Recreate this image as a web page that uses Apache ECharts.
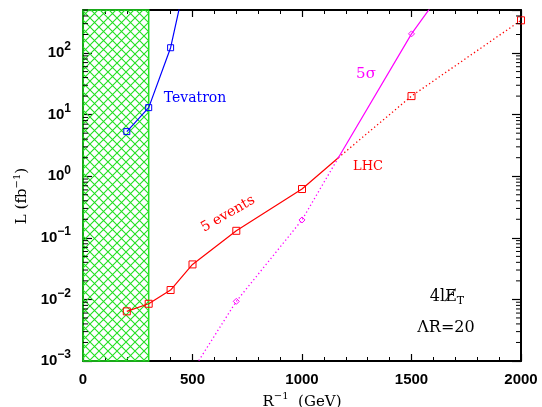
<!DOCTYPE html>
<html><head><meta charset="utf-8">
<script src="https://cdn.jsdelivr.net/npm/echarts@6/dist/echarts.min.js"></script>
<style>html,body{margin:0;padding:0;background:#fff}#c{width:542px;height:407px}</style>
</head><body><div id="c"></div>
<script>
// ---- data ----
const tevX = [200, 300, 400, 500];
const tevY = [5.3, 13, 122, 5000];
const evX = [200, 300, 400, 500, 700, 1000];
const evY = [0.0064, 0.0085, 0.0142, 0.037, 0.13, 0.62];
const joinX = 1166, joinY = 2.0;           // crossing of the 5 events and 5 sigma curves
const evHiX = [1500, 2000];
const evHiY = [20, 340];
const sigLoX = [500, 700, 1000];
const sigLoY = [0.0007, 0.0093, 0.195];
const sigHiX = [1500, 2000];
const sigHiY = [205, 60000];
const hatchX = [0, 300];
const yDecades = [-3, -2, -1, 0, 1, 2];

const RED = '#ff0000', BLUE = '#0000ff', MAG = '#ff00ff', GREEN = '#22e022';

function pts(xs, ys) { return xs.map((x, i) => [x, ys[i]]); }
function withSym(arr, sym) { return arr.map(p => ({ value: p, symbol: sym })); }

// hatch pattern
const pc = document.createElement('canvas');
pc.width = 9; pc.height = 9;
const g = pc.getContext('2d');
g.strokeStyle = GREEN; g.lineWidth = 1.1;
g.beginPath(); g.moveTo(0, 0); g.lineTo(9, 9); g.moveTo(9, 0); g.lineTo(0, 9); g.stroke();

const minorY = [];
yDecades.forEach(e => { for (let m = 2; m <= 9; m++) { const v = m * Math.pow(10, e); if (v <= 500) minorY.push([0, v]); } });

const chart = echarts.init(document.getElementById('c'), null, { renderer: 'canvas' });
const axisLine = { show: true, onZero: false, lineStyle: { color: '#000', width: 2 } };
const labelFont = { fontFamily: 'Liberation Sans', fontWeight: 'bold', fontSize: 15, color: '#000' };

function yFmt(v) {
  const e = Math.round(Math.log10(v));
  if (Math.abs(v - Math.pow(10, e)) / v > 1e-6) return '';
  return '10{sup|' + (e < 0 ? '\u2212' + (-e) : e) + '}';
}

const option = {
  animation: false,
  grid: { left: 83, right: 21, top: 10, bottom: 46, outerBoundsMode: 'none', containLabel: false },
  xAxis: [
    { type: 'value', min: 0, max: 2000, interval: 500, position: 'bottom',
      axisLine, splitLine: { show: false },
      axisTick: { inside: true, length: 7, lineStyle: { color: '#000', width: 1.2 } },
      minorTick: { show: true, splitNumber: 5, length: 4, lineStyle: { color: '#000', width: 1 } },
      axisLabel: Object.assign({ margin: 11, formatter: v => String(v) }, labelFont),
      name: 'R{sup|\u22121}  (GeV)', nameLocation: 'middle', nameGap: 27,
      nameTextStyle: { fontFamily: 'DejaVu Serif', fontSize: 15, color: '#000',
        rich: { sup: { fontFamily: 'DejaVu Serif', fontSize: 10, padding: [0, 0, 10, 0] } } } },
    { type: 'value', min: 0, max: 2000, interval: 500, position: 'top',
      axisLine, splitLine: { show: false },
      axisTick: { inside: true, length: 7, lineStyle: { color: '#000', width: 1.2 } },
      minorTick: { show: true, splitNumber: 5, length: 4, lineStyle: { color: '#000', width: 1 } },
      axisLabel: { show: false } }
  ],
  yAxis: [
    { type: 'log', logBase: 10, min: 0.001, max: 500, position: 'left',
      axisLine, splitLine: { show: false },
      axisTick: { inside: true, length: 9, lineStyle: { color: '#000', width: 1.2 } },
      axisLabel: Object.assign({ margin: 12, formatter: yFmt,
        rich: { sup: { fontFamily: 'Liberation Sans', fontWeight: 'bold', fontSize: 12, padding: [0, 0, 12, 0] } } }, labelFont) },
    { type: 'log', logBase: 10, min: 0.001, max: 500, position: 'right',
      axisLine, splitLine: { show: false },
      axisTick: { inside: true, length: 9, lineStyle: { color: '#000', width: 1.2 } },
      axisLabel: { show: false } }
  ],
  series: [
    { type: 'line', data: [], z: 1, silent: true,
      markArea: { silent: true, itemStyle: { color: { image: pc, repeat: 'repeat' }, borderColor: GREEN, borderWidth: 1.5 },
        data: [[{ xAxis: hatchX[0], yAxis: 0.001 }, { xAxis: hatchX[1], yAxis: 500 }]] } },
    { type: 'custom', silent: true, z: 5, clip: false, data: minorY,
      renderItem: (p, api) => {
        const v = api.value(1);
        const l = api.coord([0, v]), r = api.coord([2000, v]);
        const st = { stroke: '#000', lineWidth: 1 };
        return { type: 'group', children: [
          { type: 'line', shape: { x1: l[0], y1: l[1], x2: l[0] + 5, y2: l[1] }, style: st },
          { type: 'line', shape: { x1: r[0] - 5, y1: r[1], x2: r[0], y2: r[1] }, style: st }] };
      } },
    // Tevatron
    { type: 'line', z: 3, data: pts(tevX, tevY), symbol: 'rect', symbolSize: 6,
      lineStyle: { color: BLUE, width: 1.2 }, itemStyle: { color: 'transparent', borderColor: BLUE, borderWidth: 1 } },
    // 5 events solid part
    { type: 'line', z: 3, data: withSym(pts(evX, evY), 'rect').concat([{ value: [joinX, joinY], symbol: 'none' }]), symbol: 'rect', symbolSize: 7,
      lineStyle: { color: RED, width: 1.2 }, itemStyle: { color: 'transparent', borderColor: RED, borderWidth: 1 } },
    // 5 events dotted continuation
    { type: 'line', z: 3, data: [{ value: [joinX, joinY], symbol: 'none' }].concat(withSym(pts(evHiX, evHiY), 'rect')), symbolSize: 7,
      lineStyle: { color: RED, width: 1.3, type: [1.3, 2.6] }, itemStyle: { color: 'transparent', borderColor: RED, borderWidth: 1 } },
    // 5 sigma dotted part
    { type: 'line', z: 3, data: withSym(pts(sigLoX, sigLoY), 'diamond').concat([{ value: [joinX, joinY], symbol: 'none' }]), symbolSize: [6, 6],
      lineStyle: { color: MAG, width: 1.3, type: [1.3, 2.6] }, itemStyle: { color: 'transparent', borderColor: MAG, borderWidth: 1 } },
    // 5 sigma solid part
    { type: 'line', z: 3, data: [{ value: [joinX, joinY], symbol: 'none' }].concat(withSym(pts(sigHiX, sigHiY), 'diamond')), symbolSize: [6, 6],
      lineStyle: { color: MAG, width: 1.2 }, itemStyle: { color: 'transparent', borderColor: MAG, borderWidth: 1 } }
  ],
  graphic: [
    { type: 'text', x: 22, y: 196, rotation: Math.PI / 2,
      style: { text: 'L (fb{sup|\u22121})', fontFamily: 'DejaVu Serif', fontSize: 15, fill: '#000', align: 'center', verticalAlign: 'middle',
        rich: { sup: { fontFamily: 'DejaVu Serif', fontSize: 10, padding: [0, 0, 10, 0] } } } },
    { type: 'text', x: 195, y: 98, style: { text: 'Tevatron', fontFamily: 'DejaVu Serif', fontSize: 14, fill: BLUE, align: 'center', verticalAlign: 'middle' } },
    { type: 'text', x: 366, y: 74, style: { text: '5\u03c3', fontFamily: 'DejaVu Serif', fontSize: 15, fill: MAG, align: 'center', verticalAlign: 'middle' } },
    { type: 'text', x: 368, y: 167, style: { text: 'LHC', fontFamily: 'DejaVu Serif', fontSize: 13, fill: RED, align: 'center', verticalAlign: 'middle' } },
    { type: 'text', x: 228, y: 214, rotation: 30 * Math.PI / 180,
      style: { text: '5 events', fontFamily: 'DejaVu Serif', fontSize: 14, fill: RED, align: 'center', verticalAlign: 'middle' } },
    { type: 'text', x: 447, y: 297, style: { text: '4lE\u0338{sub|T}', fontFamily: 'DejaVu Serif', fontSize: 16, fill: '#000', align: 'center', verticalAlign: 'middle',
        rich: { sub: { fontFamily: 'DejaVu Serif', fontSize: 11, padding: [8, 0, 0, 0] } } } },
    { type: 'text', x: 446, y: 328, style: { text: '\u039bR=20', fontFamily: 'DejaVu Serif', fontSize: 16, fill: '#000', align: 'center', verticalAlign: 'middle' } }
  ]
};
chart.setOption(option);
</script></body></html>
